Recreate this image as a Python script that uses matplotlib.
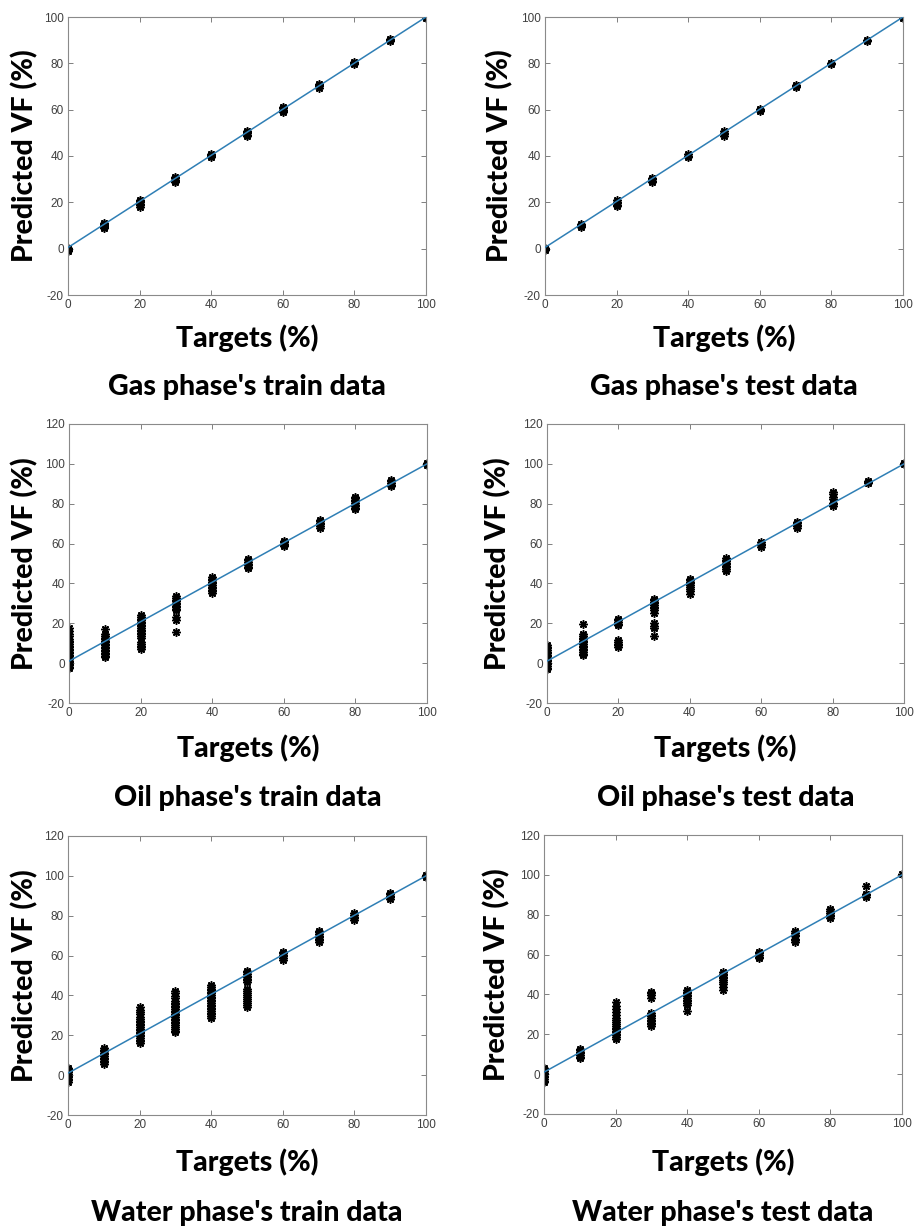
import matplotlib
matplotlib.use("Agg")
import matplotlib.pyplot as plt
import numpy as np

plt.rcParams["axes.unicode_minus"] = False

# ---- data: target value -> predicted values ----
targets = [0, 10, 20, 30, 40, 50, 60, 70, 80, 90, 100]

gas_train = {
    0: [-1.0, -0.6, -0.3, 0.0, 0.3],
    10: [8.8, 9.3, 9.8, 10.3, 10.8, 11.2],
    20: [18.2, 18.8, 19.4, 20.0, 20.6, 21.2],
    30: [28.6, 29.2, 29.8, 30.4, 30.8],
    40: [39.6, 40.1, 40.6, 41.0],
    50: [48.6, 49.2, 49.8, 50.4, 51.0],
    60: [58.8, 59.4, 60.0, 60.6, 61.0],
    70: [69.4, 70.0, 70.5, 71.0],
    80: [79.6, 80.0, 80.5],
    90: [89.5, 90.0, 90.5],
    100: [99.4, 99.8, 100.0],
}
gas_test = {
    0: [-0.6, -0.2, 0.3],
    10: [9.2, 9.7, 10.2, 10.7],
    20: [18.4, 19.0, 19.6, 20.2, 20.8],
    30: [28.8, 29.4, 30.0, 30.6],
    40: [39.7, 40.2, 40.7],
    50: [48.8, 49.4, 50.0, 50.6],
    60: [59.3, 59.8, 60.3],
    70: [69.6, 70.1, 70.6],
    80: [79.7, 80.2],
    90: [89.6, 90.1],
    100: [99.6, 100.0],
}
oil_train = {
    0: [-2.5, -1.8, -1, -0.3, 0.4, 1.2, 2, 2.7, 3.5, 4.2, 5, 5.8, 6.5, 7.3, 8, 8.8,
        9.6, 10.4, 11.2, 12, 13.4, 14.8, 16, 17.4],
    10: [3, 3.8, 4.6, 5.3, 6, 6.8, 7.5, 8.3, 9, 9.8, 10.5, 11.3, 12, 12.8, 13.5, 14.4, 17],
    20: [7.2, 8, 8.8, 9.6, 10.4, 12.6, 13.6, 14.4, 15.2, 16, 16.8, 17.6, 18.4, 19.2,
         20, 20.8, 21.6, 22.4, 23.2, 24.2],
    30: [15.5, 21.8, 23.2, 26.5, 27.3, 28, 28.8, 29.5, 30.3, 31, 31.8, 32.6, 33.5],
    40: [35.2, 36, 36.8, 37.6, 38.4, 39.2, 40, 40.8, 41.6, 42.4, 43.2],
    50: [47.6, 48.4, 49.2, 50, 50.8, 51.6, 52.4],
    60: [58.6, 59.3, 60, 60.7, 61.3],
    70: [68, 68.8, 69.6, 70.4, 71.2, 72],
    80: [77.2, 78, 78.8, 79.6, 80.4, 81.2, 82, 82.8, 83.6],
    90: [88.8, 89.6, 90.4, 91.2, 92],
    100: [99.2, 99.8, 100.3],
}
oil_test = {
    0: [-3, -2.2, -1.4, -0.6, 0.2, 1, 1.8, 2.6, 3.4, 4.2, 5, 5.8, 6.6, 7.4, 8.2, 9],
    10: [4, 4.8, 5.6, 6.4, 7.2, 8, 8.8, 9.6, 10.4, 11.2, 12, 12.8, 13.6, 14.6, 19.8],
    20: [8.2, 9, 9.8, 10.6, 11.6, 19, 19.8, 20.6, 21.4, 22.2],
    30: [13.6, 17.4, 18.6, 20, 25.4, 26.6, 27.6, 28.4, 29.2, 30, 30.8, 31.6, 32.2],
    40: [34.8, 36.2, 37.4, 38.4, 39.2, 40, 40.8, 41.6, 42.2],
    50: [46.4, 47.2, 48, 48.8, 49.6, 50.4, 51.2, 52, 52.8],
    60: [58.4, 59.2, 60, 60.8],
    70: [67.8, 68.6, 69.4, 70.2, 71],
    80: [79, 79.8, 80.6, 82.2, 83.6, 85, 86],
    90: [90.2, 91, 91.6],
    100: [99.8, 100.2],
}
water_train = {
    0: [-3.4, -2.6, -1.8, -1, -0.2, 0.6, 1.4, 2.2, 3, 3.8],
    10: [5.6, 6.4, 7.2, 8, 8.8, 9.6, 10.4, 11.2, 12, 12.8, 13.4],
    20: [16.2, 17, 17.8, 18.6, 19.4, 20.2, 21, 21.8, 22.6, 23.4, 24.2, 25, 25.8, 26.6,
         27.4, 28.4, 29.4, 30.6, 31.6, 32.8, 34.2],
    30: [21.4, 22.4, 23.4, 24.4, 25.2, 26, 26.8, 27.6, 28.4, 29.2, 30, 30.8, 31.6, 32.4,
         33.2, 34, 34.8, 35.6, 36.4, 37.4, 38.6, 39.8, 41, 42.2],
    40: [28.8, 29.8, 30.6, 31.4, 32.2, 33, 33.8, 34.6, 35.4, 36.2, 37, 37.8, 38.6, 39.4,
         40.2, 41, 41.8, 42.6, 43.4, 44.2, 45.2],
    50: [34.2, 35.2, 36.2, 37.2, 38.2, 39.2, 40.2, 41.2, 42.2, 43.4, 46.8, 47.6, 48.4,
         49.2, 50, 50.8, 51.6, 52.4],
    60: [58, 58.8, 59.6, 60.4, 61.2, 62],
    70: [66.8, 67.6, 68.4, 69.2, 70, 70.8, 71.6, 72.4],
    80: [78, 78.8, 79.6, 80.4, 81.2],
    90: [88.4, 89.2, 90, 90.8, 91.6],
    100: [99.4, 100, 100.6],
}
water_test = {
    0: [-4, -3.2, -2.4, -1.6, -0.8, 0, 0.8, 1.6, 2.4, 3.2],
    10: [8, 8.8, 9.6, 10.4, 11.2, 12, 12.8],
    20: [17.8, 18.6, 19.4, 20.2, 21, 21.8, 22.6, 23.4, 24.2, 25, 26, 27.2, 28.4, 29.8,
         31.2, 32.8, 34.2, 36],
    30: [24.2, 25, 25.8, 26.6, 27.4, 28.2, 29, 29.8, 30.6, 38.4, 39.6, 40.6, 41.2],
    40: [31.6, 34.8, 35.8, 36.6, 37.4, 38.2, 39, 39.8, 40.6, 41.4, 42.2],
    50: [42.4, 43.6, 45, 46.2, 47.2, 48, 48.8, 49.6, 50.4, 51.2],
    60: [58.2, 59, 59.8, 60.6, 61.2],
    70: [66.4, 67.2, 68, 69.2, 70, 70.8, 71.6],
    80: [78.4, 79.2, 80, 80.8, 82, 83],
    90: [89, 89.8, 90.6, 94.2],
    100: [100.2],
}

# fitted line (slope, intercept) per panel
fits = [(0.995, 0.5), (0.995, 0.5), (0.99, 1.0), (0.99, 1.0), (0.99, 1.0), (0.99, 1.0)]
panel_data = [gas_train, gas_test, oil_train, oil_test, water_train, water_test]
titles = ["Gas phase's train data", "Gas phase's test data",
          "Oil phase's train data", "Oil phase's test data",
          "Water phase's train data", "Water phase's test data"]
y_tops = [100, 100, 120, 120, 120, 120]

# ---- layout (pixel boxes: left, top, right, bottom) ----
W, H = 914, 1228
boxes = [(68, 17, 426, 295), (545, 17, 903, 295),
         (69, 424, 427, 703), (547, 424, 904, 703),
         (68, 836, 426, 1115), (544, 835, 902, 1114)]
xlab_y = [338, 338, 748, 748, 1162, 1162]
title_y = [387, 387, 798, 798, 1213, 1213]
ylab_x = [25, 500, 25, 498, 25, 497]

big_font = dict(family=["Lato", "DejaVu Sans"], weight="black", size=20.5)
line_color = "#2F7FB5"

fig = plt.figure(figsize=(W / 100, H / 100), dpi=100)

for i in range(6):
    l, t, r, b = boxes[i]
    ax = fig.add_axes([l / W, 1 - b / H, (r - l) / W, (b - t) / H])
    data = panel_data[i]
    xs, ys = [], []
    for tgt in targets:
        for v in data[tgt]:
            xs.append(tgt)
            ys.append(v)
    ax.plot(xs, ys, linestyle="none", marker=(8, 2, 0), markersize=6,
            markeredgewidth=1.1, color="black", zorder=2)
    m, c = fits[i]
    xl = np.array([0, 100])
    ax.plot(xl, m * xl + c, color=line_color, linewidth=1.1, zorder=3)

    ax.set_xlim(0, 100)
    ax.set_ylim(-20, y_tops[i])
    ax.set_xticks(range(0, 101, 20))
    ax.set_yticks(range(-20, y_tops[i] + 1, 20))
    ax.tick_params(direction="in", length=3.5, width=0.7, colors="#7f7f7f",
                   labelcolor="#404040", labelsize=8.5, top=True, right=True, pad=3)
    for lab in ax.get_xticklabels() + ax.get_yticklabels():
        lab.set_family("Liberation Sans")
    for sp in ax.spines.values():
        sp.set_color("#8a8a8a")
        sp.set_linewidth(0.8)

    cx = (l + r) / 2 / W
    fig.text(cx, 1 - xlab_y[i] / H, "Targets (%)", ha="center", va="center", **big_font)
    fig.text(cx, 1 - title_y[i] / H, titles[i], ha="center", va="center", **big_font)
    fig.text(ylab_x[i] / W, 1 - (t + b) / 2 / H, "Predicted VF (%)", rotation=90,
             ha="center", va="center", **big_font)

fig.savefig("out.png", dpi=100)
